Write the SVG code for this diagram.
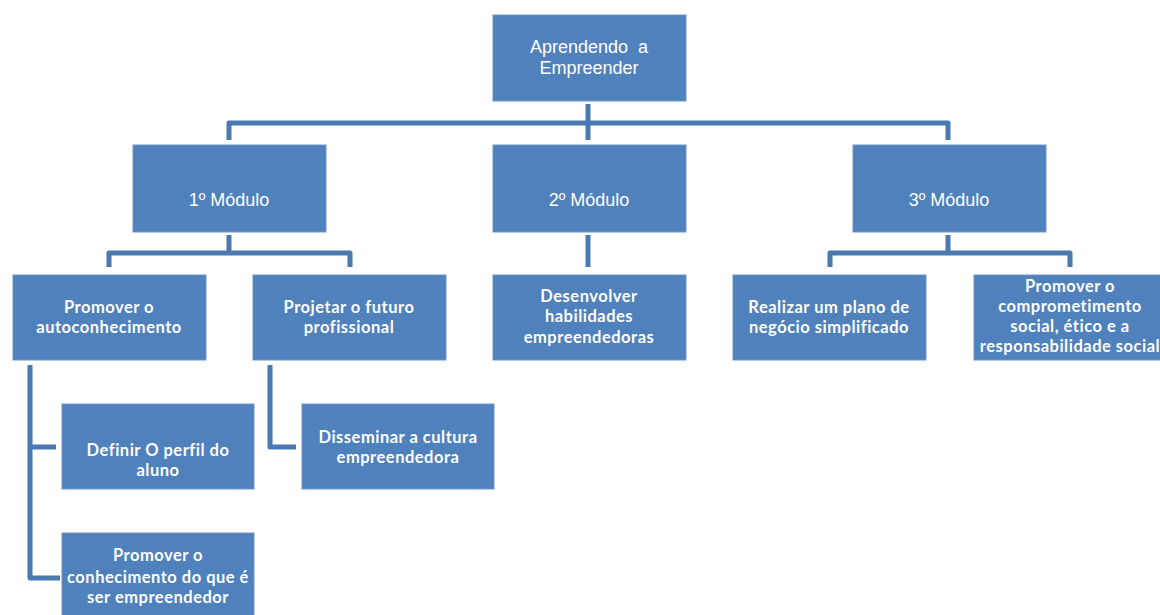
<svg xmlns="http://www.w3.org/2000/svg" width="1160" height="615" viewBox="0 0 1160 615">
<style>
.box{fill:#4f81bd;stroke:#7196c8;stroke-width:1}
.t1{font-family:"Liberation Sans",Arial,sans-serif;font-size:18px;fill:#fff;text-anchor:middle}
.t2{font-family:Lato,"Open Sans",sans-serif;font-size:16.5px;font-weight:700;letter-spacing:0.5px;fill:#fff;text-anchor:middle}
.conn{fill:none;stroke:#4a78b0;stroke-width:5;stroke-linejoin:round;stroke-linecap:butt}
</style>
<defs>
<clipPath id="c1"><rect x="62" y="533" width="192" height="90"/></clipPath>
<clipPath id="c2"><rect x="974" y="275" width="193" height="85"/></clipPath>
</defs>
<rect width="1160" height="615" fill="#fff"/>
<g id="connectors">
<path class="conn" d="M588,104 V140 M229,140 V123 H948 V140"/>
<path class="conn" d="M229,235 V253 M109,267 V253 H350 V267"/>
<path class="conn" d="M588,235 V267"/>
<path class="conn" d="M948,235 V253 M830,267 V253 H1070 V267"/>
<path class="conn" d="M30,365 V578 H60 M30,447 H56"/>
<path class="conn" d="M270,365 V447 H296"/>
</g>
<g id="root">
<rect class="box" x="493" y="15" width="193" height="86"/>
<text class="t1" x="589" y="53">Aprendendo&#160; a</text>
<text class="t1" x="589" y="74">Empreender</text>
</g>
<g id="mod1">
<rect class="box" x="133" y="145" width="193" height="87"/>
<text class="t1" x="229" y="206">1º Módulo</text>
</g>
<g id="mod2">
<rect class="box" x="493" y="145" width="193" height="87"/>
<text class="t1" x="589" y="206">2º Módulo</text>
</g>
<g id="mod3">
<rect class="box" x="853" y="145" width="193" height="87"/>
<text class="t1" x="949" y="206">3º Módulo</text>
</g>
<g id="autoconhecimento">
<rect class="box" x="13" y="275" width="193" height="85"/>
<text class="t2" x="109" y="313">Promover o</text>
<text class="t2" x="109" y="333">autoconhecimento</text>
</g>
<g id="projetar">
<rect class="box" x="253" y="275" width="193" height="85"/>
<text class="t2" x="349" y="313">Projetar o futuro</text>
<text class="t2" x="349" y="333">profissional</text>
</g>
<g id="desenvolver">
<rect class="box" x="493" y="275" width="193" height="85"/>
<text class="t2" x="589" y="302">Desenvolver</text>
<text class="t2" x="589" y="322">habilidades</text>
<text class="t2" x="589" y="343">empreendedoras</text>
</g>
<g id="realizar">
<rect class="box" x="733" y="275" width="193" height="85"/>
<text class="t2" x="829" y="313">Realizar um plano de</text>
<text class="t2" x="829" y="333">negócio simplificado</text>
</g>
<g id="comprometimento">
<rect class="box" x="974" y="275" width="193" height="85"/>
<g clip-path="url(#c2)">
<text class="t2" x="1070" y="292">Promover o</text>
<text class="t2" x="1070" y="312">comprometimento</text>
<text class="t2" x="1070" y="332">social, ético e a</text>
<text class="t2" x="1070" y="352">responsabilidade social</text>
</g>
</g>
<g id="definir">
<rect class="box" x="62" y="404" width="192" height="85"/>
<text class="t2" x="158" y="456">Definir O perfil do</text>
<text class="t2" x="158" y="476">aluno</text>
</g>
<g id="disseminar">
<rect class="box" x="302" y="404" width="192" height="85"/>
<text class="t2" x="398" y="443">Disseminar a cultura</text>
<text class="t2" x="398" y="463">empreendedora</text>
</g>
<g id="conhecimento">
<rect class="box" x="62" y="533" width="192" height="90"/>
<g clip-path="url(#c1)">
<text class="t2" x="158" y="561">Promover o</text>
<text class="t2" x="158" y="583">conhecimento do que é</text>
<text class="t2" x="158" y="603">ser empreendedor</text>
</g>
</g>
</svg>
